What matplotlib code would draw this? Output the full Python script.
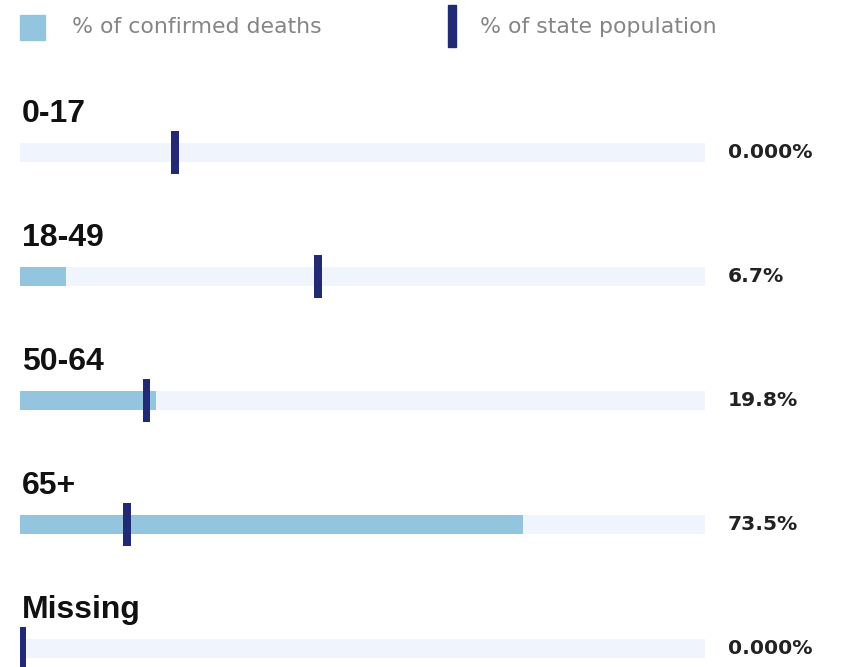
import numpy as np
import matplotlib.pyplot as plt
from matplotlib.patches import Rectangle

plt.rcParams['font.family'] = ['Liberation Sans', 'DejaVu Sans']

groups = ['0-17', '18-49', '50-64', '65+', 'Missing']
deaths_pct = [0.0, 6.7, 19.8, 73.5, 0.0]
population_pct = [22.6, 43.5, 18.5, 15.6, 0.3]
value_labels = ['0.000%', '6.7%', '19.8%', '73.5%', '0.000%']

light_blue = '#93c5de'
navy = '#232a74'
track = '#f0f4fc'

W, H = 843, 667
fig = plt.figure(figsize=(W / 100, H / 100), dpi=100)

# axes spans the track width, full height; one row every 124 px
left_px, right_px = 20, 705
row0_px, step_px = 152, 124
ax = fig.add_axes([left_px / W, 0, (right_px - left_px) / W, 1])
ax.set_xlim(0, 100)
ax.set_ylim((H - row0_px) / step_px, -row0_px / step_px)
ax.axis('off')

y = np.arange(len(groups))
bar_h = 19 / step_px
mark_w = 1.1
ax.barh(y, [100] * len(groups), height=bar_h, color=track, zorder=1)
ax.barh(y, deaths_pct, height=bar_h, color=light_blue, zorder=2)
ax.barh(y, [mark_w] * len(groups), left=np.array(population_pct) - mark_w / 2,
        height=43 / step_px, color=navy, zorder=3)

for i, g in enumerate(groups):
    ax.text(0.3, i - 0.24, g, fontsize=23, fontweight='bold', color='#111111',
            ha='left', va='baseline')
    ax.text(103.3, i + 6 / step_px, value_labels[i], fontsize=14.6,
            fontweight='bold', color='#222222', family='DejaVu Sans',
            ha='left', va='baseline')

# legend
fig.patches.append(Rectangle((20 / W, 1 - 40 / H), 25 / W, 25 / H,
                             transform=fig.transFigure, color=light_blue))
fig.text(72 / W, 1 - 27 / H, '% of confirmed deaths', fontsize=15.8,
         color='#858585', ha='left', va='center', family='DejaVu Sans')
fig.patches.append(Rectangle((448 / W, 1 - 47 / H), 8 / W, 42 / H,
                             transform=fig.transFigure, color=navy))
fig.text(480 / W, 1 - 27 / H, '% of state population', fontsize=15.8,
         color='#858585', ha='left', va='center', family='DejaVu Sans')

plt.savefig('out.png', dpi=100)
